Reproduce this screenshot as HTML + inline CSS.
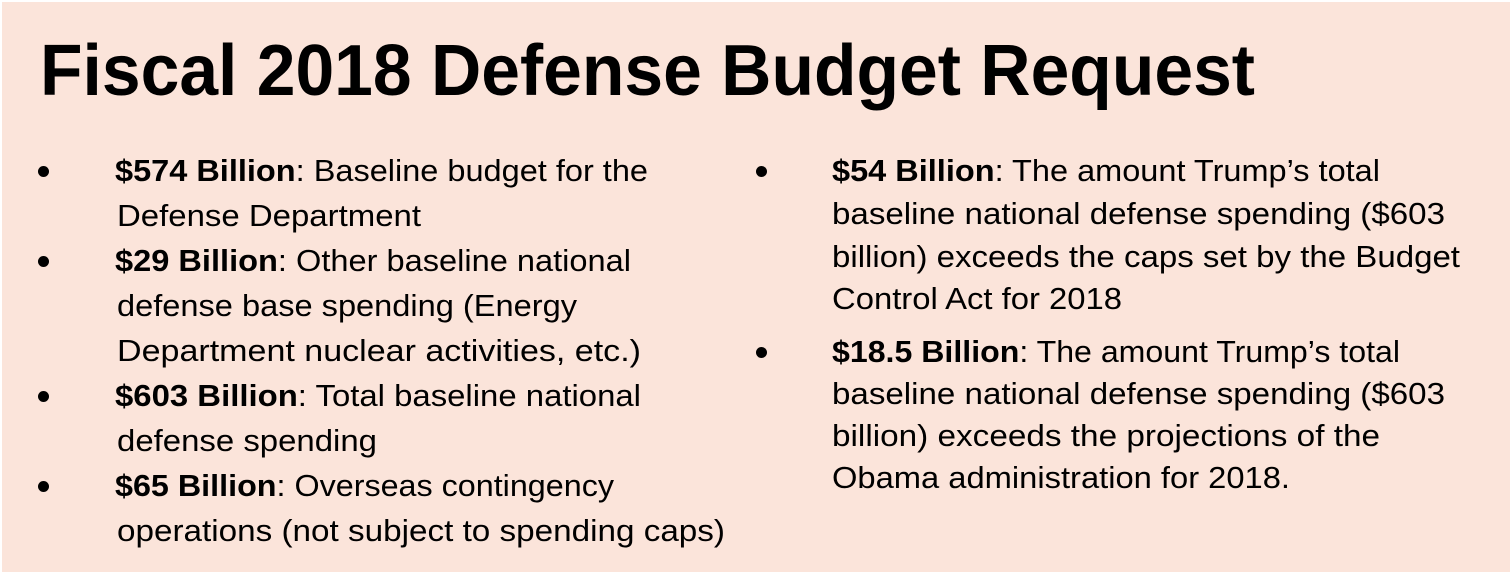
<!DOCTYPE html>
<html><head><meta charset="utf-8"><style>
html,body{margin:0;padding:0}
body{width:1512px;height:574px;background:#fff;position:relative;overflow:hidden;font-family:"Liberation Sans",sans-serif;color:#000}
#panel{position:absolute;left:2px;top:2px;width:1508px;height:570px;background:#fbe4da}
.t{position:absolute;white-space:nowrap;transform-origin:0 0}
#title{font-size:72px;font-weight:bold;line-height:72px;left:40px;top:35px}
.ln{font-size:31px;line-height:31px}
.bul{position:absolute;width:11px;height:11px;border-radius:50%;background:#000}
</style></head><body>
<div id="panel"></div>
<div class="t" id="title" data-w="1215">Fiscal 2018 Defense Budget Request</div>

<div class="bul" style="left:38px;top:166px"></div>
<div class="bul" style="left:38px;top:256px"></div>
<div class="bul" style="left:38px;top:391px"></div>
<div class="bul" style="left:38px;top:481px"></div>
<div class="bul" style="left:756px;top:166px"></div>
<div class="bul" style="left:756px;top:347px"></div>

<div class="t ln" style="left:115px;top:155px" data-w="533"><b>$574 Billion</b>: Baseline budget for the</div>
<div class="t ln" style="left:117px;top:200px" data-w="304">Defense Department</div>
<div class="t ln" style="left:115px;top:245px" data-w="516"><b>$29 Billion</b>: Other baseline national</div>
<div class="t ln" style="left:117px;top:290px" data-w="460">defense base spending (Energy</div>
<div class="t ln" style="left:117px;top:335px" data-w="524">Department nuclear activities, etc.)</div>
<div class="t ln" style="left:115px;top:380px" data-w="526"><b>$603 Billion</b>: Total baseline national</div>
<div class="t ln" style="left:117px;top:425px" data-w="260">defense spending</div>
<div class="t ln" style="left:115px;top:470px" data-w="499"><b>$65 Billion</b>: Overseas contingency</div>
<div class="t ln" style="left:117px;top:515px" data-w="608">operations (not subject to spending caps)</div>

<div class="t ln" style="left:832px;top:155px" data-w="548"><b>$54 Billion</b>: The amount Trump’s total</div>
<div class="t ln" style="left:832px;top:198px" data-w="613">baseline national defense spending ($603</div>
<div class="t ln" style="left:832px;top:241px" data-w="628">billion) exceeds the caps set by the Budget</div>
<div class="t ln" style="left:832px;top:283px" data-w="290">Control Act for 2018</div>
<div class="t ln" style="left:832px;top:336px" data-w="568"><b>$18.5 Billion</b>: The amount Trump’s total</div>
<div class="t ln" style="left:832px;top:378px" data-w="613">baseline national defense spending ($603</div>
<div class="t ln" style="left:832px;top:420px" data-w="548">billion) exceeds the projections of the</div>
<div class="t ln" style="left:832px;top:462px" data-w="458">Obama administration for 2018.</div>

<script>
document.querySelectorAll('[data-w]').forEach(function(el){
  var w=el.getBoundingClientRect().width;
  var target=parseFloat(el.getAttribute('data-w'));
  if(w>0) el.style.transform='scaleX('+(target/w)+')';
});
</script>
</body></html>
